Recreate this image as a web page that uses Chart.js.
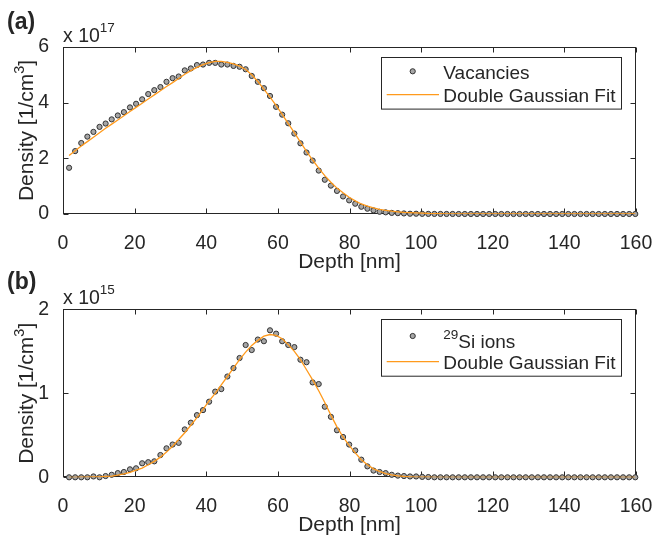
<!DOCTYPE html>
<html>
<head>
<meta charset="utf-8">
<script src="https://cdn.jsdelivr.net/npm/chart.js@4.4.1/dist/chart.umd.min.js"></script>
<style>
  html, body { margin: 0; padding: 0; background: #fff; }
  #wrap { position: relative; width: 653px; height: 535px; }
  canvas { position: absolute; left: 0; }
</style>
</head>
<body>
<div id="wrap">
  <canvas id="chartA" width="653" height="278" style="top:0"></canvas>
  <canvas id="chartB" width="653" height="272" style="top:263px"></canvas>
</div>
<script>
// depth bins [nm]
const depth = [
  1.7, 3.4, 5.1, 6.8, 8.5, 10.2, 11.9, 13.6, 15.3, 17.0,
  18.7, 20.4, 22.1, 23.8, 25.5, 27.2, 28.9, 30.6, 32.3, 34.0,
  35.7, 37.4, 39.1, 40.8, 42.5, 44.2, 45.9, 47.6, 49.3, 51.0,
  52.7, 54.4, 56.1, 57.8, 59.5, 61.2, 62.9, 64.6, 66.3, 68.0,
  69.7, 71.4, 73.1, 74.8, 76.5, 78.2, 79.9, 81.6, 83.3, 85.0,
  86.7, 88.4, 90.1, 91.8, 93.5, 95.2, 96.9, 98.6, 100.3, 102.0,
  103.7, 105.4, 107.1, 108.8, 110.5, 112.2, 113.9, 115.6, 117.3, 119.0,
  120.7, 122.4, 124.1, 125.8, 127.5, 129.2, 130.9, 132.6, 134.3, 136.0,
  137.7, 139.4, 141.1, 142.8, 144.5, 146.2, 147.9, 149.6, 151.3, 153.0,
  154.7, 156.4, 158.1, 159.8
];

// (a) vacancies, x 10^17 1/cm^3
const vacancies = [
  1.66, 2.26, 2.55, 2.78, 2.95, 3.13, 3.25, 3.40, 3.54, 3.66,
  3.83, 3.96, 4.12, 4.31, 4.45, 4.56, 4.75, 4.88, 4.94, 5.16,
  5.23, 5.35, 5.37, 5.43, 5.43, 5.37, 5.37, 5.32, 5.29, 5.20,
  4.96, 4.75, 4.52, 4.24, 3.85, 3.57, 3.26, 2.89, 2.54, 2.21,
  1.92, 1.56, 1.23, 1.02, 0.83, 0.63, 0.49, 0.37, 0.26, 0.19,
  0.13, 0.08, 0.06, 0.04, 0.03, 0.02, 0.01, 0.01, 0.005, 0.004,
  0.003, 0.002, 0.001, 0.001, 0, 0, 0, 0, 0, 0,
  0, 0, 0, 0, 0, 0, 0, 0, 0, 0,
  0, 0, 0, 0, 0, 0, 0, 0, 0, 0,
  0, 0, 0, 0
];
const vacancyFit = [
  2.10, 2.27, 2.44, 2.60, 2.76, 2.92, 3.08, 3.23, 3.38, 3.53,
  3.68, 3.83, 3.98, 4.13, 4.28, 4.43, 4.58, 4.72, 4.87, 5.02,
  5.15, 5.27, 5.37, 5.44, 5.48, 5.48, 5.45, 5.39, 5.31, 5.19,
  5.00, 4.76, 4.49, 4.20, 3.90, 3.58, 3.25, 2.92, 2.58, 2.25,
  1.94, 1.65, 1.38, 1.14, 0.93, 0.76, 0.60, 0.47, 0.36, 0.28,
  0.22, 0.17, 0.13, 0.10, 0.08, 0.06, 0.05, 0.04, 0.03, 0.02,
  0.015, 0.01, 0.007, 0.005, 0.003, 0.002, 0.001, 0, 0, 0,
  0, 0, 0, 0, 0, 0, 0, 0, 0, 0,
  0, 0, 0, 0, 0, 0, 0, 0, 0, 0,
  0, 0, 0, 0
];

// (b) 29Si ions, x 10^15 1/cm^3
const siIons = [
  0, 0, 0, 0, 0.01, 0, 0.015, 0.03, 0.05, 0.063,
  0.095, 0.107, 0.167, 0.18, 0.19, 0.265, 0.345, 0.39, 0.41, 0.57,
  0.65, 0.74, 0.80, 0.90, 1.02, 1.05, 1.20, 1.30, 1.42, 1.575,
  1.515, 1.64, 1.62, 1.75, 1.71, 1.62, 1.575, 1.55, 1.40, 1.37,
  1.13, 1.11, 0.84, 0.72, 0.56, 0.48, 0.39, 0.32, 0.21, 0.13,
  0.08, 0.063, 0.05, 0.03, 0.02, 0.015, 0.01, 0.01, 0.005, 0.003,
  0, 0, 0, 0, 0, 0, 0, 0, 0, 0,
  0, 0, 0, 0, 0, 0, 0, 0, 0, 0,
  0, 0, 0, 0, 0, 0, 0, 0, 0, 0,
  0, 0, 0, 0
];
const siFit = [
  0, 0, 0.001, 0.002, 0.004, 0.006, 0.010, 0.015, 0.025, 0.04,
  0.06, 0.085, 0.11, 0.15, 0.19, 0.24, 0.30, 0.37, 0.45, 0.53,
  0.62, 0.71, 0.81, 0.91, 1.00, 1.10, 1.20, 1.30, 1.40, 1.49,
  1.57, 1.63, 1.68, 1.70, 1.69, 1.65, 1.58, 1.50, 1.40, 1.28,
  1.16, 1.03, 0.89, 0.74, 0.60, 0.48, 0.38, 0.29, 0.21, 0.15,
  0.10, 0.07, 0.045, 0.028, 0.017, 0.010, 0.006, 0.003, 0.002, 0.001,
  0, 0, 0, 0, 0, 0, 0, 0, 0, 0,
  0, 0, 0, 0, 0, 0, 0, 0, 0, 0,
  0, 0, 0, 0, 0, 0, 0, 0, 0, 0,
  0, 0, 0, 0
];

const depthTicks = [0, 20, 40, 60, 80, 100, 120, 140, 160];
const vacancyTicks = [0, 2, 4, 6];
const siTicks = [0, 1, 2];

const FONT = '"Liberation Sans", Arial, Helvetica, sans-serif';
const INK = '#262626';
const ORANGE = '#ff9a1c';
const MARKER_FILL = '#a6a6a6';
const MARKER_EDGE = '#333333';

// draws text pieces one after another: [text, size, rise, weight]
function richText(ctx, parts, x, y, measureOnly) {
  let cx = x;
  parts.forEach(([t, size, rise, weight]) => {
    ctx.font = `${weight || 'normal'} ${size}px ${FONT}`;
    if (!measureOnly) ctx.fillText(t, cx, y - (rise || 0));
    cx += ctx.measureText(t).width;
  });
  return cx - x;
}

function drawMarker(ctx, x, y) {
  ctx.beginPath();
  ctx.arc(x, y, 2.6, 0, Math.PI * 2);
  ctx.fillStyle = MARKER_FILL;
  ctx.fill();
  ctx.lineWidth = 1;
  ctx.strokeStyle = MARKER_EDGE;
  ctx.stroke();
}

const frame = {
  id: 'frame',
  beforeDatasetsDraw(chart) {
    const { ctx, chartArea: a, scales: { x, y } } = chart;
    ctx.save();
    ctx.strokeStyle = INK;
    ctx.lineWidth = 1;
    const L = Math.round(a.left) + 0.5, R = Math.round(a.right) - 0.5;
    const T = Math.round(a.top) + 0.5, B = Math.round(a.bottom) - 0.5;
    ctx.strokeRect(L, T, R - L, B - T);
    ctx.beginPath();
    x.ticks.forEach(t => {
      const px = Math.round(x.getPixelForValue(t.value)) + 0.5;
      ctx.moveTo(px, B); ctx.lineTo(px, B - 5);
      ctx.moveTo(px, T); ctx.lineTo(px, T + 5);
    });
    y.ticks.forEach(t => {
      const py = Math.round(y.getPixelForValue(t.value)) + 0.5;
      ctx.moveTo(L, py); ctx.lineTo(L + 5, py);
      ctx.moveTo(R, py); ctx.lineTo(R - 5, py);
    });
    ctx.stroke();
    ctx.restore();
  },
  afterDatasetsDraw(chart, args, o) {
    const { ctx, chartArea: a } = chart;
    ctx.save();
    ctx.fillStyle = INK;
    ctx.textBaseline = 'alphabetic';

    // panel letter and exponent
    richText(ctx, [[o.letter, 23, 0, 'bold']], 7, a.top - o.letterGap);
    richText(ctx, [['x 10', 19.5], [o.exponent, 13.5, 10]], a.left, a.top - 5.5);

    // x title
    ctx.font = `21px ${FONT}`;
    ctx.textAlign = 'center';
    ctx.fillText('Depth [nm]', (a.left + a.right) / 2, a.bottom + 54);
    ctx.textAlign = 'left';

    // y title, rotated
    const yParts = [['Density [1/cm', 21], ['3', 14.5, 9], [']', 21]];
    const w = richText(ctx, yParts, 0, 0, true);
    ctx.save();
    ctx.translate(33, (a.top + a.bottom) / 2);
    ctx.rotate(-Math.PI / 2);
    richText(ctx, yParts, -w / 2, 0);
    ctx.restore();

    // legend
    const lg = o.legend;
    const bx = 381, bw = 240;
    ctx.fillStyle = '#fff';
    ctx.fillRect(bx, a.top + lg.top, bw, lg.height);
    ctx.strokeStyle = INK;
    ctx.lineWidth = 1;
    ctx.strokeRect(bx + 0.5, Math.round(a.top + lg.top) + 0.5, bw, lg.height);
    drawMarker(ctx, 412.7, a.top + lg.row1Marker);
    ctx.beginPath();
    ctx.strokeStyle = ORANGE;
    ctx.lineWidth = 1.3;
    ctx.moveTo(386.7, a.top + lg.row2);
    ctx.lineTo(439, a.top + lg.row2);
    ctx.stroke();
    ctx.fillStyle = INK;
    richText(ctx, lg.label1, 443.3, a.top + lg.row1Text + 6.8);
    richText(ctx, [['Double Gaussian Fit', 19]], 443.3, a.top + lg.row2 + 6.8);
    ctx.restore();
  }
};

function createPanel(canvasId, yValues, fitValues, yTicks, yMax, o) {
  const ctx = document.getElementById(canvasId).getContext('2d');
  const canvasHeight = ctx.canvas.height;

  new Chart(ctx, {
    type: 'scatter',
    data: {
      datasets: [
        {
          label: 'Double Gaussian Fit',
          data: depth.map((d, i) => ({ x: d, y: fitValues[i] })),
          showLine: true,
          borderColor: ORANGE,
          borderWidth: 1.3,
          pointRadius: 0,
          tension: 0,
          order: 0,
        },
        {
          label: 'data',
          data: depth.map((d, i) => ({ x: d, y: yValues[i] })),
          pointRadius: 2.6,
          pointBackgroundColor: MARKER_FILL,
          pointBorderColor: MARKER_EDGE,
          pointBorderWidth: 1,
          clip: false,
          order: 1,
        }
      ]
    },
    options: {
      responsive: false,
      animation: false,
      events: [],
      layout: { padding: { left: 0, right: 17, top: o.top, bottom: 0 } },
      plugins: {
        legend: { display: false },
        tooltip: { enabled: false },
        frame: o,
      },
      scales: {
        x: {
          type: 'linear',
          min: 0,
          max: 160,
          afterBuildTicks: s => { s.ticks = depthTicks.map(v => ({ value: v })); },
          ticks: { color: INK, padding: 10, maxRotation: 0, font: { family: FONT, size: 19.5 } },
          grid: { display: false },
          border: { display: false },
          afterFit: s => {
            s.height = canvasHeight - o.bottom;
            s.paddingLeft = 0; s.paddingRight = 0;
          },
        },
        y: {
          min: 0,
          max: yMax,
          afterBuildTicks: s => { s.ticks = yTicks.map(v => ({ value: v })); },
          ticks: { color: INK, padding: 6, font: { family: FONT, size: 19.5 } },
          grid: { display: false },
          border: { display: false },
          afterFit: s => {
            s.width = 63;
            s.paddingTop = 0; s.paddingBottom = 0;
          },
        }
      }
    },
    plugins: [frame]
  });
}

createPanel('chartA', vacancies, vacancyFit, vacancyTicks, 6, {
  top: 47, bottom: 214, letter: '(a)', letterGap: 18.5, exponent: '17',
  legend: { top: 10, height: 51.6, row1Marker: 24.3, row1Text: 25, row2: 47.7,
            label1: [['Vacancies', 19]] }
});

createPanel('chartB', siIons, siFit, siTicks, 2, {
  top: 46.3, bottom: 214.3, letter: '(b)', letterGap: 20.5, exponent: '15',
  legend: { top: 10, height: 56.7, row1Marker: 26.7, row1Text: 31.4, row2: 52.4,
            label1: [['29', 13.5, 8.5], ['Si ions', 19]] }
});
</script>
</body>
</html>
